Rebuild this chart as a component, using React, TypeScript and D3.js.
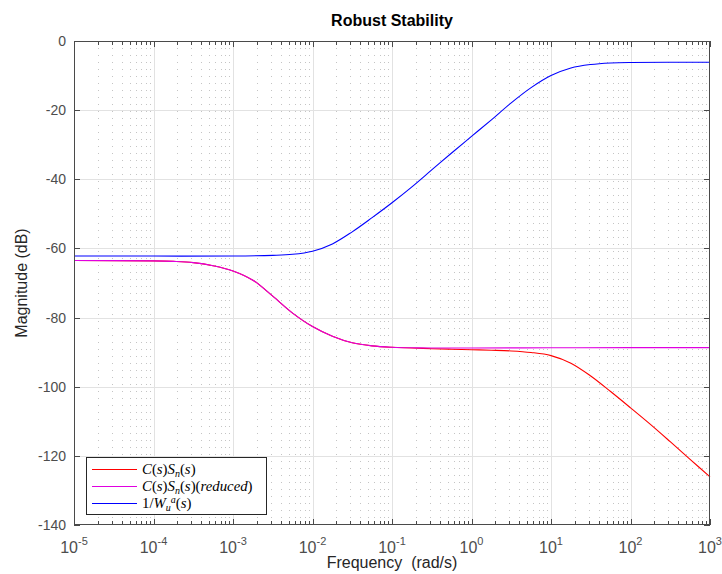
import React from 'react';
import * as d3 from 'd3';

// ---------- data ----------
const TITLE = 'Robust Stability';
const X_LABEL = 'Frequency  (rad/s)';
const Y_LABEL = 'Magnitude (dB)';
const X_DOMAIN: [number, number] = [1e-5, 1e3];
const Y_DOMAIN: [number, number] = [-140, 0];
const X_TICK_EXPONENTS = [-5, -4, -3, -2, -1, 0, 1, 2, 3];
const Y_TICKS = [0, -20, -40, -60, -80, -100, -120, -140];

// C(s)Sn(s)  (red)
const redFreq = [1e-5, 1e-4, 1.78e-4, 3.16e-4, 5.62e-4, 1e-3, 1.78e-3, 3.16e-3, 5.62e-3, 1e-2, 1.78e-2, 3.16e-2, 5.62e-2, 0.1, 0.178, 0.316, 0.562, 1, 1.78, 3.16, 5.62, 10, 17.8, 31.6, 56.2, 100, 178, 316, 562, 1000];
const redDb = [-63.5, -63.6, -63.75, -64.1, -65.0, -66.5, -69.2, -73.8, -78.7, -82.6, -85.4, -87.3, -88.2, -88.6, -88.8, -89.0, -89.15, -89.3, -89.45, -89.65, -90.1, -91.0, -93.2, -96.9, -101.4, -106.1, -110.9, -115.9, -121.0, -126.1];

// C(s)Sn(s)(reduced)  (magenta)
const magFreq = [1e-5, 1e-4, 1.78e-4, 3.16e-4, 5.62e-4, 1e-3, 1.78e-3, 3.16e-3, 5.62e-3, 1e-2, 1.78e-2, 3.16e-2, 5.62e-2, 0.1, 0.178, 0.316, 1, 10, 100, 1000];
const magDb = [-63.5, -63.6, -63.75, -64.1, -65.0, -66.5, -69.2, -73.8, -78.7, -82.6, -85.4, -87.3, -88.2, -88.6, -88.75, -88.8, -88.8, -88.75, -88.7, -88.7];

// 1/Wu^a(s)  (blue)
const blueFreq = [1e-5, 1e-4, 1e-3, 3.16e-3, 5.62e-3, 1e-2, 1.78e-2, 3.16e-2, 5.62e-2, 0.1, 0.178, 0.316, 0.562, 1, 1.78, 3.16, 5.62, 10, 17.8, 31.6, 56.2, 100, 1000];
const blueDb = [-62.2, -62.2, -62.2, -62.0, -61.7, -60.8, -58.7, -55.2, -51.1, -46.8, -42.2, -37.3, -32.4, -27.6, -22.8, -17.9, -13.5, -10.0, -7.8, -6.8, -6.35, -6.2, -6.15];

type Seg = { t: string; it?: boolean; pos?: 'sub' | 'sup' };
const legendRed: Seg[] = [
  { t: 'C', it: true }, { t: '(' }, { t: 's', it: true }, { t: ')' }, { t: 'S', it: true }, { t: 'n', it: true, pos: 'sub' },
  { t: '(' }, { t: 's', it: true }, { t: ')' },
];
const legendMag: Seg[] = [...legendRed, { t: '(' }, { t: 'reduced', it: true }, { t: ')' }];
const legendBlue: Seg[] = [
  { t: '1/' }, { t: 'W', it: true }, { t: 'u', it: true, pos: 'sub' }, { t: 'a', it: true, pos: 'sup' },
  { t: '(' }, { t: 's', it: true }, { t: ')' },
];

const SERIES = [
  { freq: redFreq, db: redDb, color: '#ff0000', legend: legendRed },
  { freq: magFreq, db: magDb, color: '#e000e0', legend: legendMag },
  { freq: blueFreq, db: blueDb, color: '#0000ff', legend: legendBlue },
];

// ---------- layout ----------
const W = 722;
const H = 574;
const PL = 74, PR = 710, PT = 41, PB = 525;
const SANS = "'Liberation Sans', Arial, Helvetica, sans-serif";
const SERIF = "'Liberation Serif', 'Times New Roman', serif";
const AXIS = '#4a4a4a';
const TXT = '#4d4d4d';

export default function App() {
  const x = d3.scaleLog().domain(X_DOMAIN).range([PL, PR]);
  const y = d3.scaleLinear().domain(Y_DOMAIN).range([PB, PT]);

  const minorTicks: number[] = [];
  for (let e = -5; e < 3; e++) for (let m = 2; m <= 9; m++) minorTicks.push(m * Math.pow(10, e));
  const majorTicks = X_TICK_EXPONENTS.map((e) => Math.pow(10, e));

  const cx = (v: number) => Math.round(x(v)) + 0.5;
  const cy = (v: number) => Math.round(y(v)) + 0.5;

  const line = d3
    .line<[number, number]>()
    .x((d) => x(d[0]))
    .y((d) => y(d[1]))
    .curve(d3.curveCatmullRom.alpha(0.5));

  const renderSegs = (segs: Seg[]) => {
    let cur = 0;
    const out: React.ReactNode[] = [];
    segs.forEach((s, i) => {
      const target = s.pos === 'sub' ? 3 : s.pos === 'sup' ? -5 : 0;
      const dy = target - cur;
      cur = target;
      out.push(
        <tspan key={i} dy={dy} fontStyle={s.it ? 'italic' : 'normal'} fontSize={s.pos ? 10 : 14.8}>
          {s.t}
        </tspan>
      );
    });
    return out;
  };

  const legX = 86, legY = 457, legW = 180, legH = 57;
  const rowY = [469, 486, 503];

  return (
    <svg width={W} height={H} style={{ position: 'absolute', left: 0, top: 0, background: '#fff' }}>
      <rect x={0} y={0} width={W} height={H} fill="#fff" />
      {/* grid */}
      <g>
        {minorTicks.map((v, i) => (
          <line key={'mg' + i} x1={cx(v)} x2={cx(v)} y1={PT} y2={PB} stroke="#c4c4c4" strokeDasharray="1,6" />
        ))}
        {majorTicks.slice(1, -1).map((v, i) => (
          <line key={'Mg' + i} x1={cx(v)} x2={cx(v)} y1={PT} y2={PB} stroke="#e2e2e2" />
        ))}
        {Y_TICKS.slice(1, -1).map((v, i) => (
          <line key={'yg' + i} x1={PL} x2={PR} y1={cy(v)} y2={cy(v)} stroke="#e2e2e2" />
        ))}
      </g>
      {/* curves */}
      <g fill="none" strokeWidth={1.1}>
        {SERIES.map((s, i) => (
          <path key={i} d={line(s.freq.map((f, j) => [f, s.db[j]]) as [number, number][]) || ''} stroke={s.color} />
        ))}
      </g>
      {/* axes box & ticks */}
      <g stroke={AXIS} strokeWidth={1}>
        <rect x={PL + 0.5} y={PT + 0.5} width={PR - PL - 1} height={PB - PT - 1} fill="none" />
        {minorTicks.map((v, i) => (
          <g key={'mt' + i}>
            <line x1={cx(v)} x2={cx(v)} y1={PB} y2={PB - 4} />
            <line x1={cx(v)} x2={cx(v)} y1={PT} y2={PT + 4} />
          </g>
        ))}
        {majorTicks.map((v, i) => (
          <g key={'Mt' + i}>
            <line x1={cx(v)} x2={cx(v)} y1={PB} y2={PB - 6} />
            <line x1={cx(v)} x2={cx(v)} y1={PT} y2={PT + 6} />
          </g>
        ))}
        {Y_TICKS.map((v, i) => (
          <g key={'yt' + i}>
            <line x1={PL} x2={PL + 6} y1={cy(v)} y2={cy(v)} />
            <line x1={PR} x2={PR - 6} y1={cy(v)} y2={cy(v)} />
          </g>
        ))}
      </g>
      {/* tick labels */}
      <g fontFamily={SANS} fill={TXT}>
        {Y_TICKS.map((v, i) => (
          <text key={'yl' + i} x={66} y={y(v) + 5} textAnchor="end" fontSize={14}>
            {v}
          </text>
        ))}
        {X_TICK_EXPONENTS.map((e, i) => (
          <text key={'xl' + i} x={x(Math.pow(10, e))} y={552.5} textAnchor="middle" fontSize={16}>
            10
            <tspan dy={-7.5} fontSize={11}>
              {String(e)}
            </tspan>
          </text>
        ))}
      </g>
      {/* labels */}
      <text x={(PL + PR) / 2} y={26} textAnchor="middle" fontFamily={SANS} fontWeight="bold" fontSize={16} fill="#000">
        {TITLE}
      </text>
      <text x={(PL + PR) / 2} y={568} textAnchor="middle" fontFamily={SANS} fontSize={16} fill="#262626" style={{ whiteSpace: 'pre' }}>
        {X_LABEL}
      </text>
      <text
        transform={`translate(27, ${(PT + PB) / 2}) rotate(-90)`}
        textAnchor="middle"
        fontFamily={SANS}
        fontSize={16}
        fill="#262626"
      >
        {Y_LABEL}
      </text>
      {/* legend */}
      <g>
        <rect x={legX + 0.5} y={legY + 0.5} width={legW} height={legH} fill="#fff" stroke="#262626" />
        {SERIES.map((s, i) => (
          <g key={'lg' + i}>
            <line x1={92} x2={137} y1={rowY[i] + 0.5} y2={rowY[i] + 0.5} stroke={s.color} strokeWidth={1.1} />
            <text x={142} y={rowY[i] + 4.5} fontFamily={SERIF} fill="#000">
              {renderSegs(s.legend)}
            </text>
          </g>
        ))}
      </g>
    </svg>
  );
}
